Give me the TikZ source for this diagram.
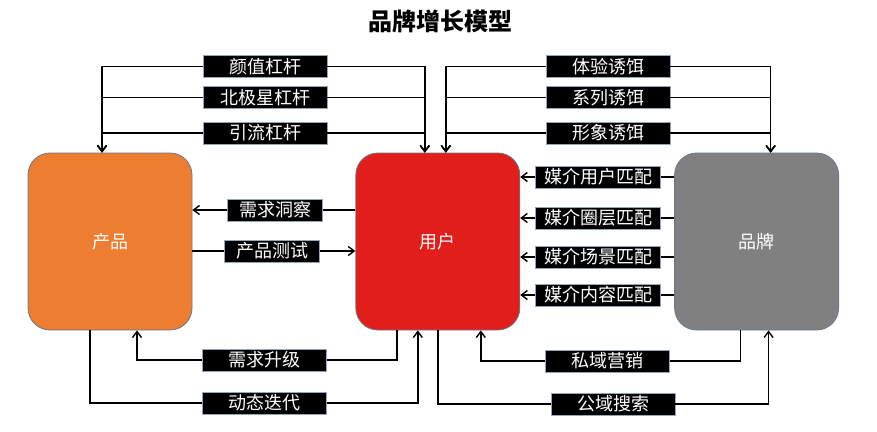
\documentclass[tikz,border=0pt]{standalone}
\usepackage{fontspec}
\setmainfont{Noto Sans CJK SC}
\usepackage{xcolor}
\usepackage{tikz}
\usetikzlibrary{arrows.meta, positioning, calc}
\definecolor{prodorange}{RGB}{237, 125, 49}
\definecolor{userred}{RGB}{226, 30, 26}
\definecolor{brandgray}{RGB}{128, 128, 128}
\definecolor{boxline}{RGB}{105, 120, 140}
\definecolor{tagline}{RGB}{150, 165, 185}

\begin{document}
\begin{tikzpicture}[x=1pt, y=1pt,
    box/.style={rectangle, draw=boxline, line width=0.8pt, rounded corners=22pt, minimum width=164pt, minimum height=177pt, text=white, font=\fontsize{18}{18}\selectfont},
    tag/.style={rectangle, fill=black, draw=tagline, line width=0.8pt, text=white, minimum width=124pt, minimum height=22pt, inner sep=1pt, font=\fontsize{18}{18}\selectfont},
    shorttag/.style={tag, minimum width=95pt},
    ln/.style={line width=1.4pt},
    arr/.style={ln, -{Straight Barb[length=6pt, width=9pt]}}
]
    \useasboundingbox (0,0) rectangle (877,-431);

    \node[font=\fontsize{24}{24}\selectfont\bfseries] (title) at (440,-21) {品牌增长模型};

    % main blocks
    \node[box, fill=prodorange] (product) at (110,-241.5) {产品};
    \node[box, fill=userred, right=163pt of product] (user) {用户};
    \node[box, fill=brandgray, right=154pt of user] (brand) {品牌};

    % levers (top left)
    \node[tag] (looks) at (265,-66.5) {颜值杠杆};
    \node[tag] (northstar) at (265,-97.5) {北极星杠杆};
    \node[tag] (traffic) at (265,-133) {引流杠杆};

    % baits (top right)
    \node[tag] (trial) at (608,-66.5) {体验诱饵};
    \node[tag] (series) at (608,-97.5) {系列诱饵};
    \node[tag] (image) at (608,-133) {形象诱饵};

    % product <-> user
    \node[shorttag] (insight) at (275,-210) {需求洞察};
    \node[shorttag] (test) at (272,-251) {产品测试};

    % brand -> user media matching
    \node[tag, minimum width=125pt] (mediauser) at (598,-177) {媒介用户匹配};
    \node[tag, minimum width=125pt] (mediacircle) at (598,-218) {媒介圈层匹配};
    \node[tag, minimum width=125pt] (mediascene) at (598,-257) {媒介场景匹配};
    \node[tag, minimum width=125pt] (mediacontent) at (598,-295) {媒介内容匹配};

    % bottom loops
    \node[tag] (upgrade) at (264.5,-360) {需求升级};
    \node[tag] (iterate) at (264.5,-403) {动态迭代};
    \node[tag] (private) at (607.5,-361) {私域营销};
    \node[tag] (search) at (613,-404) {公域搜索};

    \draw[arr] (looks.west) -| ([xshift=-8pt]product.north);
    \draw[arr] (looks.east) -| ([xshift=-13pt]user.north);
    \draw[arr] (northstar.west) -| ([xshift=-8pt]product.north);
    \draw[arr] (northstar.east) -| ([xshift=-13pt]user.north);
    \draw[arr] (traffic.west) -| ([xshift=-8pt]product.north);
    \draw[arr] (traffic.east) -| ([xshift=-13pt]user.north);

    \draw[arr] (trial.west) -| ([xshift=8pt]user.north);
    \draw[arr] (trial.east) -| ([xshift=14pt]brand.north);
    \draw[arr] (series.west) -| ([xshift=8pt]user.north);
    \draw[arr] (series.east) -| ([xshift=14pt]brand.north);
    \draw[arr] (image.west) -| ([xshift=8pt]user.north);
    \draw[arr] (image.east) -| ([xshift=14pt]brand.north);

    \draw[ln] (user.west |- insight) -- (insight.east);
    \draw[arr] (insight.west) -- (product.east |- insight);
    \draw[ln] (product.east |- test) -- (test.west);
    \draw[arr] (test.east) -- (user.west |- test);

    \draw[ln] (brand.west |- mediauser) -- (mediauser.east);
    \draw[arr] (mediauser.west) -- (user.east |- mediauser);
    \draw[ln] (brand.west |- mediacircle) -- (mediacircle.east);
    \draw[arr] (mediacircle.west) -- (user.east |- mediacircle);
    \draw[ln] (brand.west |- mediascene) -- (mediascene.east);
    \draw[arr] (mediascene.west) -- (user.east |- mediascene);
    \draw[ln] (brand.west |- mediacontent) -- (mediacontent.east);
    \draw[arr] (mediacontent.west) -- (user.east |- mediacontent);

    \draw[ln] ([xshift=-41pt]user.south) |- (upgrade.east);
    \draw[arr] (upgrade.west) -| ([xshift=27pt]product.south);
    \draw[ln] ([xshift=-20pt]product.south) |- (iterate.west);
    \draw[arr] (iterate.east) -| ([xshift=-20pt]user.south);
    \draw[ln] ([xshift=-16pt]brand.south) |- (private.east);
    \draw[arr] (private.west) -| ([xshift=43pt]user.south);
    \draw[ln] (user.south) |- (search.west);
    \draw[arr] (search.east) -| ([xshift=12pt]brand.south);
\end{tikzpicture}
\end{document}
